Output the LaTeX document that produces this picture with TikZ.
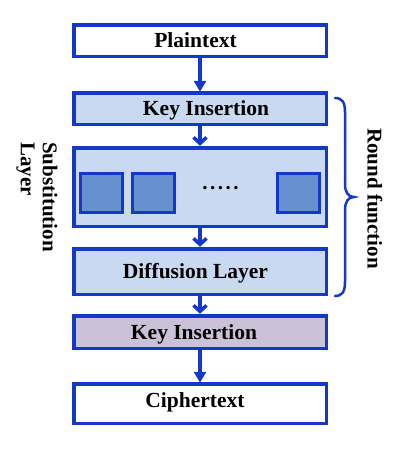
\documentclass[tikz,border=0pt]{standalone}
\usepackage{fontspec}
\setmainfont{Liberation Serif}
\usetikzlibrary{arrows.meta}
\definecolor{bblue}{HTML}{1438C8}
\definecolor{lfill}{HTML}{C9D9F0}
\definecolor{sfill}{HTML}{6690D0}
\definecolor{pfill}{HTML}{CBC2DA}
\begin{document}
\begin{tikzpicture}[x=1pt,y=1pt,
  box/.style={draw=bblue,line width=3.5pt,rectangle,inner sep=0pt,outer sep=0pt,
     minimum width=252.5pt,text height=14.2pt,text depth=0pt,
     font=\fontsize{21.5}{23}\selectfont\bfseries,text=black},
  sbox/.style={draw=bblue,fill=sfill,line width=3pt,rectangle,inner sep=0pt,outer sep=0pt,
     minimum width=42pt,minimum height=39pt},
  lbl/.style={inner sep=0pt,font=\fontsize{21}{22}\selectfont\bfseries,text=black},
  arr/.style={draw=bblue,line width=3.5pt},
  tri/.style={arr,-{Triangle[length=11pt,width=12pt]},shorten >=1pt},
  barb/.style={arr,-{Straight Barb[length=6pt,width=13pt]},shorten >=2pt}]
\useasboundingbox (0,0) rectangle (416,-451);
\fill[white] (0,0) rectangle (416,-451);
\node[box,fill=white,minimum height=31.5pt] (p) at (200,-40.5) {\kern-9pt Plaintext};
\node[box,fill=lfill,minimum height=31.5pt] (k1) at (200,-108.5) {\kern12pt Key Insertion};
\node[box,fill=lfill,minimum height=78.5pt] (s) at (200,-187) {};
\node[box,fill=lfill,minimum height=45.5pt] (d) at (200,-271.5) {\kern-9pt Diffusion Layer};
\node[box,fill=pfill,minimum height=32.5pt] (k2) at (200,-332) {\kern-12pt Key Insertion};
\node[box,fill=white,minimum height=39.5pt] (c) at (200,-403.5) {\kern-10pt\raisebox{3pt}{Ciphertext}};
\node[sbox] (s1) at (101.5,-193) {};
\node[sbox] (s2) at (153.5,-193) {};
\node[sbox] (s3) at (298,-193) {};
\node[lbl,anchor=base] (dots) at (220.5,-189) {.\kern2.5pt.\kern2.5pt.\kern2.5pt.\kern2.5pt.};
\draw[tri] (p.south) -- (k1.north);
\draw[barb] (k1.south) -- (s.north);
\draw[barb] (s.south) -- (d.north);
\draw[barb] (d.south) -- (k2.north);
\draw[tri] (k2.south) -- (c.north);
\draw[draw=bblue,line width=2.5pt,line cap=round]
  (335,-98) .. controls (342,-98) and (345,-102) .. (345,-112) -- (345,-184)
  .. controls (345,-192) and (348,-197) .. (354,-197)
  .. controls (348,-197) and (345,-202) .. (345,-210) -- (345,-282)
  .. controls (345,-292) and (342,-296) .. (335,-296);
\node[lbl,rotate=-90] (rf) at (375,-198.5) {Round function};
\node[lbl,rotate=-90,align=left] (sl) at (37,-197) {Substitution\\Layer};
\end{tikzpicture}
\end{document}
